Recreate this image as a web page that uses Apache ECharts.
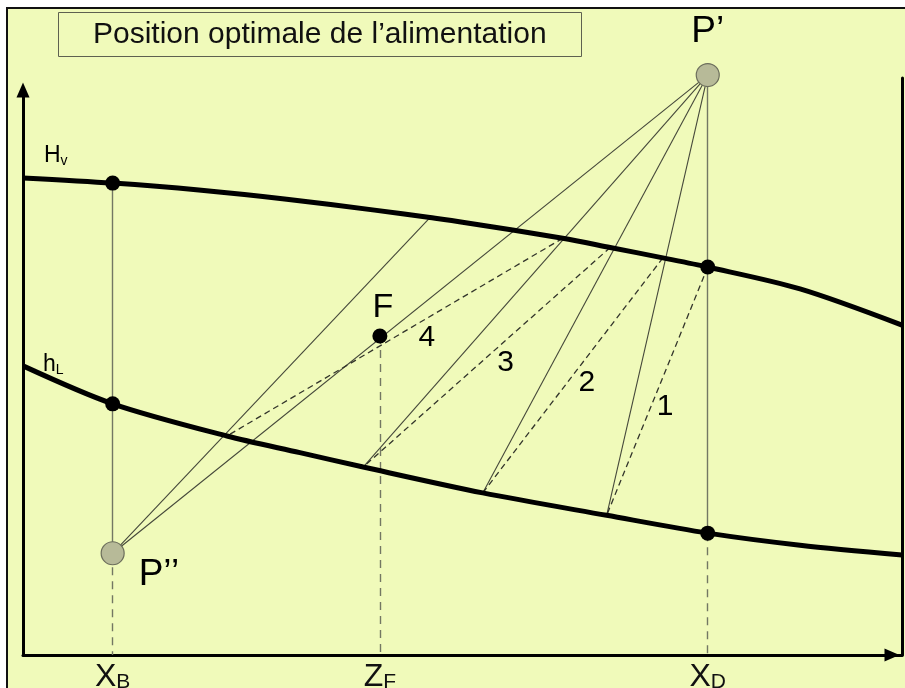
<!DOCTYPE html>
<html>
<head>
<meta charset="utf-8">
<script src="https://cdn.jsdelivr.net/npm/echarts@6/dist/echarts.min.js"></script>
<style>
  html, body { margin: 0; padding: 0; background: #ffffff; }
  #chart { width: 905px; height: 688px; }
</style>
</head>
<body>
<div id="chart"></div>
<script>
// Ponchon–Savarit diagram: optimal feed stage location

// Compositions marked on the x axis
const xB = 10.2;
const zF = 40.6;
const xD = 77.9;
const axisTickValues = [xB, zF, xD];
const axisTickMain = ['X', 'Z', 'X'];
const axisTickSub = ['B', 'F', 'D'];

// Saturated vapour enthalpy curve H_V
const vapourX = [0, 10.2, 20, 30, 40, 46.3, 50, 61.4, 66.8, 72.8, 77.9, 88.4, 100];
const vapourH = [83.0, 82.1, 80.9, 79.3, 77.4, 76.1, 75.3, 72.5, 70.9, 69.1, 67.5, 63.7, 57.4];

// Saturated liquid enthalpy curve h_L
const liquidX = [0, 10.2, 23.2, 31.5, 38.7, 52.3, 66.4, 77.9, 88.4, 100];
const liquidH = [50.3, 43.7, 38.1, 35.2, 32.7, 28.2, 24.3, 21.2, 19.1, 17.4];

// Difference points and feed
const poleTop = [77.9, 100.9];    // P'
const poleBottom = [10.2, 17.7];  // P''
const feedPoint = [40.6, 55.5];   // F

// Equilibrium tie lines, stage 1 to 4 (vapour x -> liquid x)
const tieVapourX = [77.9, 72.8, 66.8, 61.4];
const tieLiquidX = [66.4, 52.3, 38.7, 23.2];
const stageNames = ['1', '2', '3', '4'];

// Stripping operating line through P'' ends on H_V here
const strippingVapourX = 46.3;

// ---------------------------------------------------------------
const FONT = 'Liberation Sans, Arial, Helvetica, sans-serif';
const BG = '#F0FABA';
const THIN = '#45483A';
const GREY = '#737763';
const INK = '#000000';

function curveValue(xs, hs, x) {
  const i = xs.indexOf(x);
  if (i >= 0) return hs[i];
  for (let k = 0; k < xs.length - 1; k++) {
    if (x >= xs[k] && x <= xs[k + 1]) {
      const t = (x - xs[k]) / (xs[k + 1] - xs[k]);
      return hs[k] + t * (hs[k + 1] - hs[k]);
    }
  }
  return hs[hs.length - 1];
}
const vap = x => [x, curveValue(vapourX, vapourH, x)];
const liq = x => [x, curveValue(liquidX, liquidH, x)];

// operating lines (solid)
const operatingLines = [];
tieLiquidX.slice(0, 3).forEach(x => operatingLines.push({ coords: [poleTop, liq(x)] }));
operatingLines.push({ coords: [poleTop, poleBottom] });
operatingLines.push({ coords: [poleBottom, vap(strippingVapourX)] });

// tie lines (dashed)
const tieLines = tieVapourX.map((xv, i) => ({ coords: [vap(xv), liq(tieLiquidX[i])] }));

// vertical construction lines
const verticalSolid = [
  { coords: [vap(xB), poleBottom] },
  { coords: [poleTop, liq(xD)] }
];
const verticalDashed = [
  { coords: [poleBottom, [xB, 0]] },
  { coords: [feedPoint, [zF, 0]] },
  { coords: [liq(xD), [xD, 0]] }
];

// stage number labels at tie-line midpoints
const stageLabelOffsets = [[8, 16], [14, 7], [19, 5], [32, 1]];
const stageLabelData = tieLines.map((l, i) => ({
  value: [(l.coords[0][0] + l.coords[1][0]) / 2, (l.coords[0][1] + l.coords[1][1]) / 2],
  label: { formatter: stageNames[i], offset: stageLabelOffsets[i] }
}));

const blackDots = [vap(xB), liq(xB), vap(xD), liq(xD), feedPoint];

const chart = echarts.init(document.getElementById('chart'), null, { renderer: 'canvas' });

const hiddenAxis = {
  splitLine: { show: false },
  axisTick: { show: false },
  axisLabel: { show: false }
};

chart.setOption({
  animation: false,
  backgroundColor: '#ffffff',
  textStyle: { fontFamily: FONT },
  graphic: [{
    type: 'rect',
    z: -100,
    silent: true,
    shape: { x: 7, y: 8, width: 930, height: 720 },
    style: { fill: BG, stroke: '#111111', lineWidth: 2 }
  }],
  title: {
    text: 'Position optimale de l’alimentation',
    left: 58,
    top: 12,
    backgroundColor: BG,
    borderColor: '#5E6150',
    borderWidth: 1,
    padding: [6, 35, 6, 35],
    textStyle: { fontSize: 30, fontWeight: 'normal', color: '#111111', fontFamily: FONT, lineHeight: 33 }
  },
  grid: [
    { left: 23, right: 3, top: 90, bottom: 33, containLabel: false, outerBoundsMode: 'none' },
    { left: 23, right: 3, top: 78, bottom: 33, containLabel: false, outerBoundsMode: 'none' }
  ],
  xAxis: [{
    type: 'value',
    min: 0,
    max: 100,
    splitLine: { show: false },
    axisTick: { show: false },
    axisLine: {
      show: true,
      onZero: false,
      symbol: ['none', 'triangle'],
      symbolSize: [13, 15],
      symbolOffset: [0, -10],
      lineStyle: { color: INK, width: 3 }
    },
    axisLabel: {
      show: true,
      customValues: axisTickValues,
      margin: 6,
      formatter: v => {
        let best = 0;
        axisTickValues.forEach((t, i) => { if (Math.abs(t - v) < Math.abs(axisTickValues[best] - v)) best = i; });
        return '{m|' + axisTickMain[best] + '}{s|' + axisTickSub[best] + '}';
      },
      rich: {
        m: { fontSize: 32, lineHeight: 32, color: '#111111', fontFamily: FONT },
        s: { fontSize: 21, lineHeight: 4, color: '#111111', fontFamily: FONT, verticalAlign: 'bottom' }
      }
    }
  }, Object.assign({ gridIndex: 1, type: 'value', min: 0, max: 100, show: false }, hiddenAxis)],
  yAxis: [{
    type: 'value',
    min: 0,
    max: 98.3,
    splitLine: { show: false },
    axisTick: { show: false },
    axisLabel: { show: false },
    axisLine: {
      show: true,
      onZero: false,
      symbol: ['none', 'triangle'],
      symbolSize: [13, 15],
      symbolOffset: [0, 0],
      lineStyle: { color: INK, width: 3 }
    }
  }, Object.assign({
    gridIndex: 1,
    type: 'value',
    min: 0,
    max: 100,
    position: 'right',
    axisLine: { show: true, onZero: false, lineStyle: { color: INK, width: 3 } }
  }, hiddenAxis)],
  series: [
    {
      name: 'H_V',
      type: 'line',
      data: vapourX.map((x, i) => [x, vapourH[i]]),
      smooth: 0.3,
      showSymbol: false,
      clip: false,
      z: 4,
      lineStyle: { color: INK, width: 5 }
    },
    {
      name: 'h_L',
      type: 'line',
      data: liquidX.map((x, i) => [x, liquidH[i]]),
      smooth: 0.3,
      showSymbol: false,
      clip: false,
      z: 4,
      lineStyle: { color: INK, width: 5 }
    },
    {
      name: 'operating',
      type: 'lines',
      coordinateSystem: 'cartesian2d',
      clip: false,
      z: 3,
      data: operatingLines,
      lineStyle: { color: THIN, width: 1.1, opacity: 1 }
    },
    {
      name: 'ties',
      type: 'lines',
      coordinateSystem: 'cartesian2d',
      clip: false,
      z: 3,
      data: tieLines,
      lineStyle: { color: '#33352B', width: 1.3, type: [6, 4], opacity: 1 }
    },
    {
      name: 'verticals',
      type: 'lines',
      coordinateSystem: 'cartesian2d',
      clip: false,
      z: 3,
      data: verticalSolid,
      lineStyle: { color: GREY, width: 1.4, opacity: 1 }
    },
    {
      name: 'drops',
      type: 'lines',
      coordinateSystem: 'cartesian2d',
      clip: false,
      z: 3,
      data: verticalDashed,
      lineStyle: { color: GREY, width: 1.4, type: [8, 6], opacity: 1 }
    },
    {
      name: 'points',
      type: 'scatter',
      clip: false,
      z: 6,
      symbolSize: 15,
      itemStyle: { color: INK, opacity: 1 },
      data: blackDots.map((p, i) => i === blackDots.length - 1
        ? { value: p, label: { show: true, formatter: 'F', position: 'inside', offset: [3, -28], fontSize: 34, color: INK } }
        : { value: p })
    },
    {
      name: 'poles',
      type: 'scatter',
      clip: false,
      z: 7,
      symbolSize: 23,
      itemStyle: { color: '#B7BA98', borderColor: '#6C6E5C', borderWidth: 1.2, opacity: 1 },
      label: { show: true, position: 'inside', color: INK, fontSize: 37 },
      data: [
        { value: poleTop, label: { formatter: 'P’', offset: [0, -43] } },
        { value: poleBottom, label: { formatter: 'P’’', align: 'left', offset: [26, 22], fontSize: 37 } }
      ]
    },
    {
      name: 'stages',
      type: 'scatter',
      clip: false,
      z: 8,
      symbolSize: 1,
      itemStyle: { color: 'rgba(0,0,0,0)', opacity: 1 },
      label: { show: true, position: 'inside', fontSize: 30, color: INK },
      data: stageLabelData
    },
    {
      name: 'curveNames',
      type: 'scatter',
      clip: false,
      z: 8,
      symbolSize: 1,
      itemStyle: { color: 'rgba(0,0,0,0)', opacity: 1 },
      label: {
        show: true,
        position: 'inside',
        align: 'left',
        rich: {
          m: { fontSize: 23, lineHeight: 24, color: INK, fontFamily: FONT },
          s: { fontSize: 14, lineHeight: 6, color: INK, fontFamily: FONT, verticalAlign: 'bottom' }
        }
      },
      data: [
        { value: [vapourX[0], vapourH[0]], label: { formatter: '{m|H}{s|v}', offset: [21, -22] } },
        { value: [liquidX[0], liquidH[0]], label: { formatter: '{m|h}{s|L}', offset: [20, -1] } }
      ]
    }
  ]
});
</script>
</body>
</html>
